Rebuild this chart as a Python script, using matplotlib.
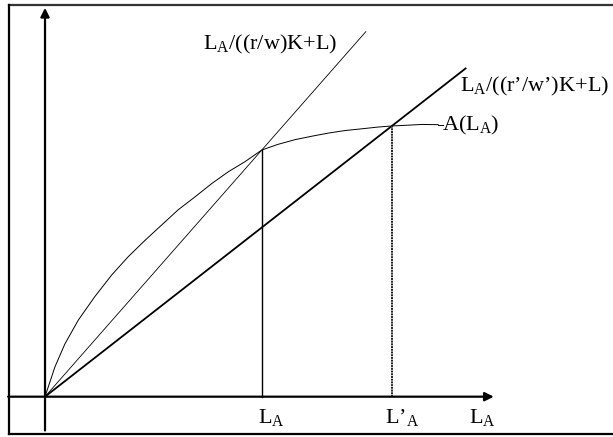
"""Labour allocation diagram: output curve A(L_A) and two factor-price rays."""
import numpy as np
import matplotlib
matplotlib.use("Agg")
import matplotlib.pyplot as plt

plt.rcParams["mathtext.fontset"] = "custom"
plt.rcParams["mathtext.rm"] = "Liberation Serif"
plt.rcParams["mathtext.it"] = "Liberation Serif:italic"
plt.rcParams["font.family"] = "Liberation Serif"

# --- diagram data ---
curve_x = [0, 0.23, 0.46, 0.77, 1.15, 1.54, 1.92, 2.31, 2.69, 3.07, 3.46, 3.85, 4.23,
           4.61, 5.0, 5.37, 5.77, 6.16, 6.53, 6.92, 7.31, 7.68, 8.0, 8.30, 8.70, 9.07]
curve_y = [0, 0.69, 1.22, 1.77, 2.31, 2.81, 3.23, 3.61, 3.96, 4.31, 4.61, 4.92, 5.19,
           5.42, 5.69, 5.82, 5.93, 6.01, 6.08, 6.14, 6.18, 6.22, 6.245, 6.26, 6.28, 6.275]

tick_x = [5.0, 8.0]            # L_A and L'_A
tick_a = [5.69, 6.245]         # A at those points
ray_end_x = [7.4, 9.7]         # where the two rays stop

xaxis_span = [-0.85, 10.35]
yaxis_span = [-0.78, 8.97]

ray_labels = [r"$\mathrm{L_A/((r/w)K{+}L)}$", r"$\mathrm{L_A/((r’/w’)K{+}L)}$"]
curve_label = r"$\mathrm{A(L_A)}$"
tick_labels = [r"$\mathrm{L_A}$", r"$\mathrm{L’_A}$"]
axis_label = r"$\mathrm{L_A}$"

fig = plt.figure(figsize=(6.13, 4.37), dpi=100)
ax = fig.add_axes([0, 0, 1, 1])
ax.set_xlim(-1.038, 13.10)
ax.set_ylim(-0.930, 9.151)
ax.axis("off")

# frame (no right side)
ax.plot([0.0147, 1.0], [0.9886, 0.9886], transform=ax.transAxes, color="#333333", lw=1.6)
ax.plot([0.0147, 1.0], [0.0069, 0.0069], transform=ax.transAxes, color="k", lw=1.6)
ax.plot([0.0147, 0.0147], [0.0069, 0.9886], transform=ax.transAxes, color="k", lw=1.6)

# axes with arrows
arrow = dict(arrowstyle="-|>", lw=1.6, color="k", mutation_scale=13, shrinkA=0, shrinkB=0)
ax.annotate("", xy=(xaxis_span[1], 0), xytext=(xaxis_span[0], 0), arrowprops=arrow)
ax.annotate("", xy=(0, yaxis_span[1]), xytext=(0, yaxis_span[0]), arrowprops=arrow)

# the two rays
slopes = [a / x for a, x in zip(tick_a, tick_x)]
ax.plot([0, ray_end_x[0]], [0, slopes[0] * ray_end_x[0]], color="k", lw=0.6)
ax.plot([0, ray_end_x[1]], [0, slopes[1] * ray_end_x[1]], color="k", lw=1.3)

# output curve
ax.plot(curve_x, curve_y, color="k", lw=0.7, solid_joinstyle="round")
ax.plot([curve_x[-1], curve_x[-1] + 0.1], [curve_y[-1], curve_y[-1]], color="k", lw=0.7)

# drop lines
ax.plot([tick_x[0], tick_x[0]], [0, tick_a[0]], color="k", lw=1.0)
ax.plot([tick_x[1], tick_x[1]], [0, tick_a[1]], color="#222222", lw=1.4, ls=(0, (1, 0.4)))

fs = 16
ax.text(3.645, 8.0, ray_labels[0], fontsize=fs, ha="left", va="baseline")
ax.text(9.56, 7.03, ray_labels[1], fontsize=fs, ha="left", va="baseline")
ax.text(9.16, 6.13, curve_label, fontsize=fs, ha="left", va="baseline")
ax.text(4.92, -0.614, tick_labels[0], fontsize=fs, ha="left", va="baseline")
ax.text(7.83, -0.614, tick_labels[1], fontsize=fs, ha="left", va="baseline")
ax.text(9.79, -0.614, axis_label, fontsize=fs, ha="left", va="baseline")

fig.savefig("out.png", dpi=100)
